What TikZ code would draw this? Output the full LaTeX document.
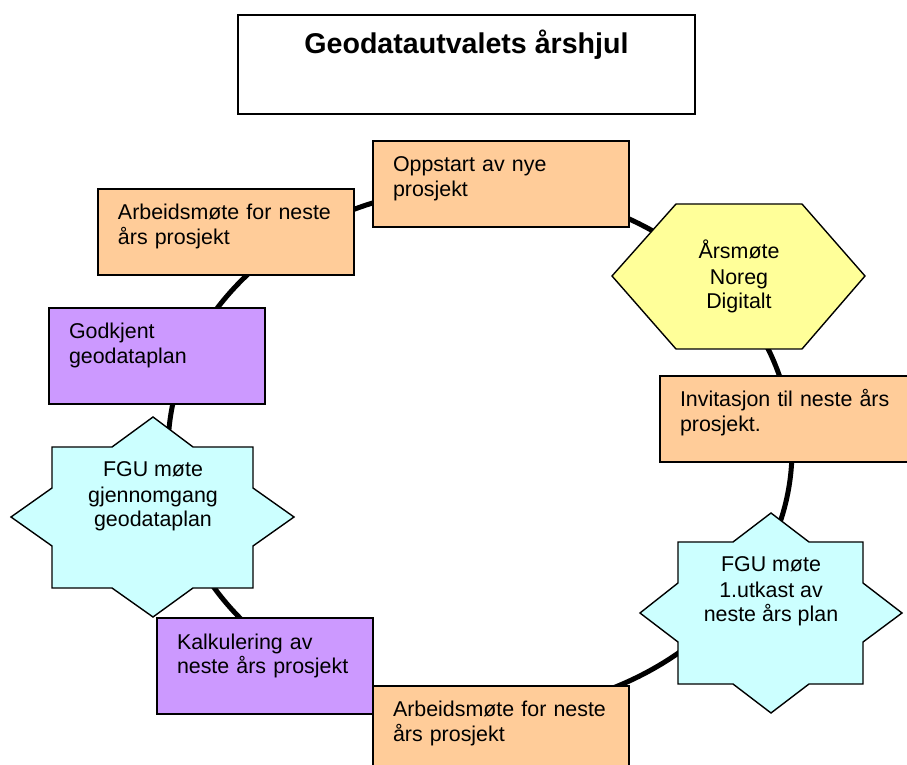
\documentclass[tikz,border=0pt]{standalone}
\usepackage{fontspec}
\setmainfont{Liberation Sans}

\definecolor{peach}{HTML}{FFCC99}
\definecolor{lilac}{HTML}{CC99FF}
\definecolor{lemon}{HTML}{FFFF99}
\definecolor{icecyan}{HTML}{CCFFFF}

\tikzset{
    task/.style={draw, line width=1pt, anchor=north west, align=left,
        inner xsep=10pt, inner ysep=0pt, text height=15.5pt,
        font=\fontsize{10.7}{12.5}\selectfont},
    peachbox/.style={task, fill=peach, text width=108pt, text depth=27.5pt},
    lilacbox/.style={task, fill=lilac, text width=88pt, text depth=32.5pt},
    shapetext/.style={anchor=base, align=center, inner sep=0pt,
        font=\fontsize{10.7}{12.5}\selectfont},
}

\begin{document}
\begin{tikzpicture}[x=0.5pt, y=-0.5pt]
    \useasboundingbox (0,0) rectangle (907,765);

    \node [draw, line width=1pt, anchor=north west, inner sep=0pt,
        minimum width=228.5pt, text height=19.5pt, text depth=30pt,
        font=\fontsize{14.3}{16}\selectfont\bfseries]
        (title) at (237,14) {Geodatautvalets årshjul};

    % the wheel
    \draw [line width=2.5pt] (480,450) ellipse [x radius=312, y radius=263];

    \node [peachbox] (arbeid1) at (97,188) {Arbeidsmøte for neste\\års prosjekt};
    \node [peachbox] (oppstart) at (372,140) {Oppstart av nye\\prosjekt};

    \draw [line width=0.7pt, fill=lemon] (612,276) -- (676,204) -- (802,204)
        -- (865,276) -- (802,349) -- (676,349) -- cycle;
    \node [shapetext] (aarsmote) at (739,309) {Årsmøte\\Noreg\\Digitalt};

    \node [peachbox] (invitasjon) at (659,375) {Invitasjon til neste års\\prosjekt.};

    \draw [line width=0.7pt, fill=icecyan] (771,513) -- (809,542) -- (863,542)
        -- (863,583) -- (902,613) -- (863,642) -- (863,684) -- (809,684)
        -- (771,713) -- (733,684) -- (678,684) -- (678,642) -- (640,613)
        -- (678,583) -- (678,542) -- (733,542) -- cycle;
    \node [shapetext] (utkast) at (771,622) {FGU møte\\1.utkast av\\neste års plan};

    \node [peachbox] (arbeid2) at (372,685) {Arbeidsmøte for neste\\års prosjekt};
    \node [lilacbox] (kalkulering) at (156,617) {Kalkulering av\\neste års prosjekt};

    \draw [line width=0.7pt, fill=icecyan] (153,417) -- (193,447) -- (253,447)
        -- (253,488) -- (294,517) -- (253,546) -- (253,588) -- (193,588)
        -- (153,617) -- (112,588) -- (52,588) -- (52,546) -- (11,517)
        -- (52,488) -- (52,447) -- (112,447) -- cycle;
    \node [shapetext] (gjennomgang) at (153,527) {FGU møte\\gjennomgang\\geodataplan};

    \node [lilacbox] (godkjent) at (48,307) {Godkjent\\geodataplan};
\end{tikzpicture}
\end{document}
